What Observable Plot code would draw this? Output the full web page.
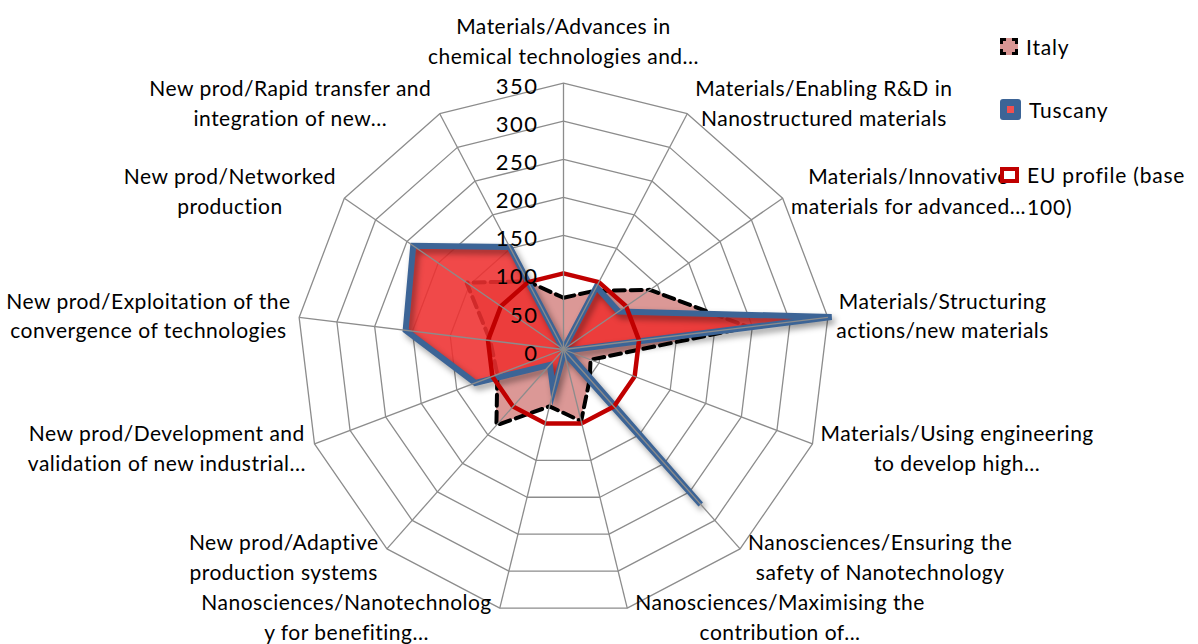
<!DOCTYPE html>
<html><head><meta charset="utf-8">
<script src="https://cdn.jsdelivr.net/npm/d3@7"></script>
<script src="https://cdn.jsdelivr.net/npm/@observablehq/plot@0.6"></script>
<style>
html,body{margin:0;padding:0;background:#fff;}
#wrap{position:relative;width:1198px;height:644px;font-family:Lato,"Open Sans",sans-serif;}
#legend{position:absolute;left:1000px;top:0;width:198px;font-size:21px;letter-spacing:0.8px;color:#000;}
.item{position:absolute;left:0;display:flex;align-items:flex-start;line-height:32px;}
.item .txt{margin-left:8px;width:170px;}
.mk{flex:none;box-sizing:border-box;margin-top:7px;}
.mk.italy{width:18px;height:17px;background:#D99694;border:3px dashed #000;}
.mk.tusc{width:21px;height:21px;background:#3C6496;border-radius:3px;position:relative;margin-top:5px;}
.mk.tusc::after{content:"";position:absolute;left:7px;top:7px;width:7px;height:7px;background:#F05050;}
.mk.eu{width:19px;height:16px;border:4px solid #C00000;background:#fff;margin-top:8px;}
</style></head><body><div id="wrap"></div>
<script>
// ---- data ----
const categories = [
  "Materials/Advances in\nchemical technologies and...",
  "Materials/Enabling R&D in\nNanostructured materials",
  "Materials/Innovative\nmaterials for advanced...",
  "Materials/Structuring\nactions/new materials",
  "Materials/Using engineering\nto develop high...",
  "Nanosciences/Ensuring the\nsafety of Nanotechnology",
  "Nanosciences/Maximising the\ncontribution of...",
  "Nanosciences/Nanotechnolog\ny for benefiting...",
  "New prod/Adaptive\nproduction systems",
  "New prod/Development and\nvalidation of new industrial...",
  "New prod/Exploitation of the\nconvergence of technologies",
  "New prod/Networked\nproduction",
  "New prod/Rapid transfer and\nintegration of new..."
];
const italy    = [68, 87, 138, 245, 38, 52, 97, 77, 133, 93, 97, 155, 101];
const tuscany  = [0, 93, 88, 355, 4, 272, 4, 56, 27, 124, 209, 240, 152];
const euProfile = [100, 100, 100, 100, 100, 100, 100, 100, 100, 100, 100, 100, 100];
const ticks = [0, 50, 100, 150, 200, 250, 300, 350];
const seriesNames = ["Italy", "Tuscany", "EU profile (base 100)"];

// ---- layout ----
const W = 1198, H = 644, CX = 563, CY = 349, RPX = 266.3;
const RMAX = d3.max(ticks);
const K = RPX / RMAX;              // pixels per unit
const FS = 21, LS = 0.5;            // label font size, letter spacing
const n = categories.length;
const ang = i => i * 2 * Math.PI / n;
const px = (i, v) => v * Math.sin(ang(i));
const py = (i, v) => v * Math.cos(ang(i));
function closed(values) {
  const pts = values.map((v, i) => ({x: px(i, v), y: py(i, v)}));
  pts.push(pts[0]);
  return pts;
}
const rings = ticks.filter(t => t > 0).flatMap(t =>
  closed(categories.map(() => t)).map(p => ({...p, t})));
const spokes = categories.map((c, i) => ({x2: px(i, RMAX), y2: py(i, RMAX)}));

const ctx = document.createElement("canvas").getContext("2d");
ctx.font = `${FS}px Lato`;
const GAP = 8;
const labels = categories.map((c, i) => {
  const lines = c.split("\n");
  const w = d3.max(lines, l => ctx.measureText(l).width + l.length * LS);
  const s = Math.sin(ang(i)), co = Math.cos(ang(i));
  let x = RMAX * s, y = RMAX * co;
  if (Math.abs(s) < 0.1) y += 44 / K;
  else { x += Math.sign(s) * (w / 2 + GAP) / K; y += (co * 12 + (co < -0.9 ? 4 : 2)) / K; }
  return {text: c, x, y};
});

const it = closed(italy), tu = closed(tuscany), eu = closed(euProfile);

const chart = Plot.plot({
  width: W, height: H, margin: 0,
  x: {domain: [-CX / K, (W - CX) / K], axis: null},
  y: {domain: [-(H - CY) / K, CY / K], axis: null},
  style: {fontFamily: "Lato, 'Open Sans', sans-serif", background: "#fff", color: "#000"},
  marks: [
    Plot.line(rings, {x: "x", y: "y", z: "t", stroke: "#8c8c8c", strokeWidth: 1.3}),
    Plot.area(it, {x1: "x", y1: "y", x2: 0, y2: 0, fill: "#DB9896"}),
    Plot.line(it, {x: "x", y: "y", stroke: "#000", strokeWidth: 4, strokeDasharray: "11,6", strokeLinejoin: "miter"}),
    Plot.area(tu, {x1: "x", y1: "y", x2: 0, y2: 0, fill: "#EE3030", fillOpacity: 0.88}),
    Plot.line(tu, {x: "x", y: "y", stroke: "#3C6496", strokeWidth: 6, strokeLinejoin: "miter", strokeMiterlimit: 10}),
    Plot.line(eu, {x: "x", y: "y", stroke: "#C00000", strokeWidth: 4.5, strokeLinejoin: "miter"}),
    Plot.link(spokes, {x1: 0, y1: 0, x2: "x2", y2: "y2", stroke: "#8c8c8c", strokeWidth: 1.3}),
    Plot.text(ticks, {x: 0, y: d => d, text: d => String(d), textAnchor: "end", dx: -25, dy: 4, fontSize: 22, fill: "#000"}),
    Plot.text(labels, {x: "x", y: "y", text: "text", textAnchor: "middle", lineAnchor: "middle", lineHeight: 1.42, fontSize: FS, fill: "#000"})
  ]
});
document.getElementById("wrap").appendChild(chart);

// letter spacing for the texts (Excel-like wide rendering)
const groups = Array.from(chart.querySelectorAll(":scope > g"));
groups[groups.length - 1].setAttribute("letter-spacing", LS);
groups[groups.length - 2].setAttribute("letter-spacing", 1.5);

// soft shadow under the Tuscany outline
const tl = groups.find(g => g.getAttribute("stroke") === "#3C6496");
if (tl) tl.setAttribute("style", "filter: drop-shadow(3px 4px 3px rgba(0,0,0,0.4))");

// legend
const legend = document.createElement("div");
legend.id = "legend";
const cls = ["italy", "tusc", "eu"];
const tops = [31, 94, 159];
seriesNames.forEach((name, i) => {
  const item = document.createElement("div");
  item.className = "item";
  item.style.top = tops[i] + "px";
  item.innerHTML = `<span class="mk ${cls[i]}"></span><span class="txt"></span>`;
  item.querySelector(".txt").textContent = name;
  legend.appendChild(item);
});
document.getElementById("wrap").appendChild(legend);
</script>
</body></html>
